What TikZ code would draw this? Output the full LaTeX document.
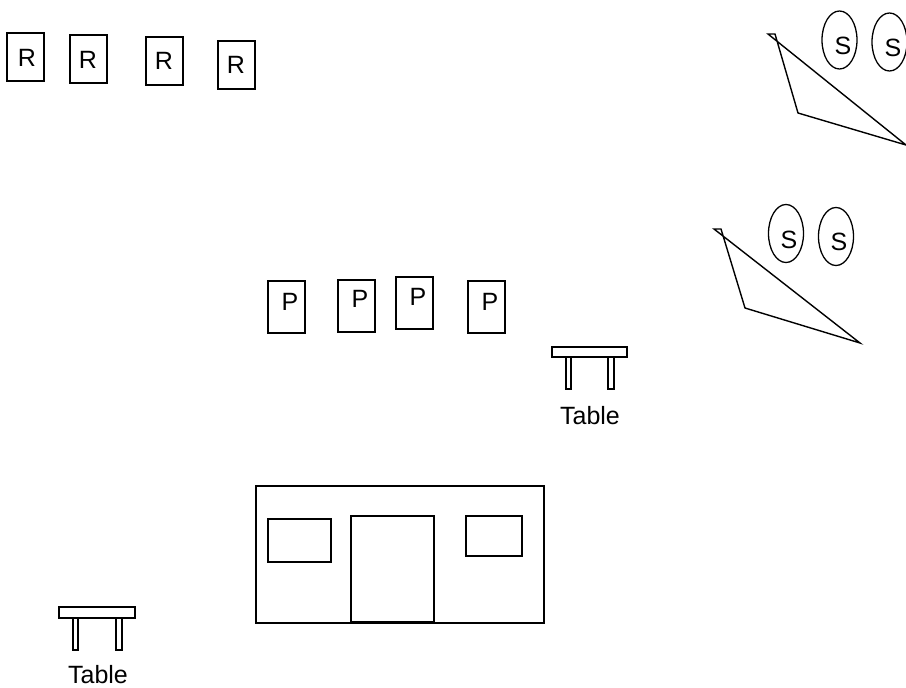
\documentclass[tikz,border=0pt]{standalone}
\usepackage{fontspec}
\setmainfont{Liberation Sans}
\usetikzlibrary{shapes.geometric}
\tikzset{
    rackbox/.style = {
        rectangle, draw, line width=1.4pt,
        minimum width=37pt,
        minimum height=48pt,
        inner sep=0pt
    },
    postbox/.style = {
        rectangle, draw, line width=1.4pt,
        minimum width=37pt,
        minimum height=52pt,
        inner sep=0pt
    },
    seatoval/.style = {
        ellipse, draw, line width=1.3pt,
        minimum width=35pt,
        minimum height=58pt,
        inner sep=0pt
    },
    caption/.style = {
        font=\fontsize{25}{29}\selectfont,
        inner sep=0pt
    },
    outline/.style = {
        line width=1.4pt
    }
}
\begin{document}
\begin{tikzpicture}[x=1pt, y=-1pt]
\useasboundingbox (0,0) rectangle (906,688);

\node (r1) [rackbox] at (25.5,57) {};
\node (r2) [rackbox] at (88.5,59) {};
\node (r3) [rackbox] at (164.5,61) {};
\node (r4) [rackbox] at (236.5,65) {};
\node (r1text) [caption] at (27,58) {R};
\node (r2text) [caption] at (88,60) {R};
\node (r3text) [caption] at (164,61) {R};
\node (r4text) [caption] at (236,65) {R};

\node (p1) [postbox] at (286.5,307) {};
\node (p2) [postbox] at (356.5,306) {};
\node (p3) [postbox] at (414.5,303) {};
\node (p4) [postbox] at (486.5,307) {};
\node (p1text) [caption] at (290,302) {P};
\node (p2text) [caption] at (360,299) {P};
\node (p3text) [caption] at (418,297) {P};
\node (p4text) [caption] at (490,302) {P};

\node (s1) [seatoval] at (839.5,40) {};
\node (s2) [seatoval] at (889.5,42) {};
\node (s3) [seatoval] at (786,233.5) {};
\node (s4) [seatoval] at (836,236.5) {};
\node (s1text) [caption] at (843,46) {S};
\node (s2text) [caption] at (893,48) {S};
\node (s3text) [caption] at (789,240) {S};
\node (s4text) [caption] at (839,242) {S};

% stands
\draw [outline] (906,145) -- (768,34) -- (775,34) -- (798,113) -- cycle;
\draw [outline] (860,343) -- (714,229) -- (721,229) -- (745,308) -- cycle;

% tables
\draw [outline] (552,347) rectangle (627,357);
\draw [outline] (566,357) rectangle (571,389);
\draw [outline] (608,357) rectangle (614,389);
\node (table1) [caption] at (590,416) {Table};

\draw [outline] (59,607) rectangle (135,618);
\draw [outline] (73,618) rectangle (78,650);
\draw [outline] (116,618) rectangle (122,650);
\node (table2) [caption] at (98,675) {Table};

% building
\draw [outline] (256,486) rectangle (544,623);
\draw [outline] (351,516) rectangle (434,622);
\draw [line width=2.4pt] (351,622) -- (434,622);
\draw [outline] (268,519) rectangle (331,562);
\draw [outline] (466,516) rectangle (522,556);

\end{tikzpicture}
\end{document}
